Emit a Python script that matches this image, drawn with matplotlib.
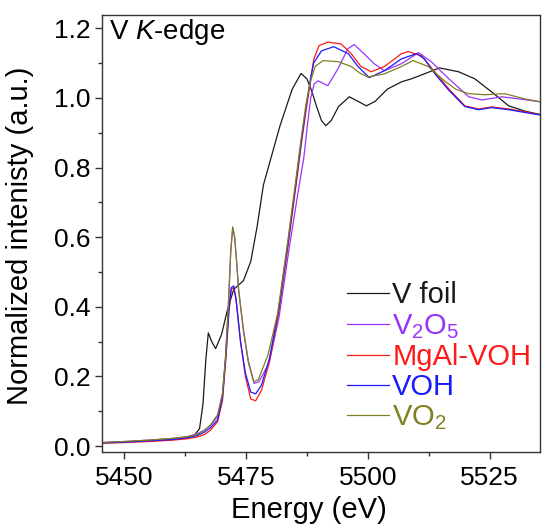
import matplotlib
matplotlib.use("Agg")
import matplotlib.pyplot as plt
from matplotlib.ticker import MultipleLocator

plt.rcParams['font.family'] = ['Liberation Sans', 'DejaVu Sans']
plt.rcParams['mathtext.fontset'] = 'custom'
plt.rcParams['mathtext.rm'] = 'Liberation Sans'
plt.rcParams['mathtext.it'] = 'Liberation Sans:italic'

# ---- data ----
foil_E = [5445.5, 5450, 5455, 5460, 5463, 5464.5, 5465.5, 5466.2, 5466.8, 5467.3, 5468, 5468.8,
          5470, 5471.2, 5472.5, 5474.5, 5476, 5477.3, 5478.6, 5480, 5482, 5484.5, 5486.3, 5487.5,
          5488.5, 5489.5, 5490.5, 5491.4, 5492.5, 5494, 5496.2, 5498, 5499.7, 5501.5, 5504,
          5506.9, 5509, 5511.6, 5514.7, 5518.6, 5521.9, 5525.4, 5528.9, 5532.2, 5535.7]
foil_I = [0.010, 0.012, 0.015, 0.019, 0.024, 0.032, 0.05, 0.12, 0.25, 0.325, 0.30, 0.28,
          0.32, 0.39, 0.45, 0.475, 0.53, 0.63, 0.75, 0.82, 0.92, 1.025, 1.07, 1.055,
          1.02, 0.975, 0.935, 0.92, 0.935, 0.975, 1.003, 0.99, 0.977, 0.99, 1.025,
          1.046, 1.055, 1.069, 1.086, 1.075, 1.055, 1.017, 0.977, 0.962, 0.951]

v2o5_E = [5445.5, 5450, 5455, 5460, 5463, 5465, 5466.5, 5467.7, 5469.2, 5470.2, 5470.8, 5471.4,
          5471.9, 5472.3, 5472.7, 5473.1, 5473.5, 5474.5, 5475.5, 5476.7, 5477.7, 5479.8, 5481.8,
          5483.9, 5485.6, 5486.9, 5487.6, 5488.3, 5489, 5489.8, 5491.8, 5493.9, 5495.9, 5497.2,
          5499.2, 5501.3, 5503.4, 5506.9, 5510.4, 5513, 5516.6, 5520.7, 5523.4, 5527.5, 5531, 5535.7]
v2o5_I = [0.010, 0.013, 0.017, 0.022, 0.027, 0.035, 0.046, 0.058, 0.085, 0.15, 0.25, 0.40,
          0.56, 0.625, 0.60, 0.53, 0.45, 0.335, 0.245, 0.18, 0.185, 0.24, 0.37,
          0.57, 0.72, 0.83, 0.92, 1.0, 1.04, 1.049, 1.035, 1.084, 1.141, 1.153,
          1.127, 1.098, 1.078, 1.098, 1.13, 1.104, 1.055, 1.003, 0.994, 1.003, 0.997, 0.988]

mgal_E = [5445.5, 5450, 5455, 5460, 5463, 5465, 5466.5, 5467.7, 5469.2, 5470.2, 5470.9, 5471.5,
          5472, 5472.5, 5473, 5473.9, 5474.9, 5476, 5477, 5478.2, 5479.8, 5481.7, 5483.7, 5485.3,
          5486.4, 5487.4, 5488.3, 5488.9, 5490, 5491.8, 5494.5, 5496.6, 5498.6, 5500.7, 5503.4,
          5506.9, 5508.3, 5511, 5513.7, 5516.6, 5519.9, 5522.7, 5525.4, 5528.9, 5532.2, 5535.7]
mgal_I = [0.008, 0.010, 0.013, 0.017, 0.021, 0.026, 0.033, 0.045, 0.07, 0.13, 0.25, 0.38,
          0.45, 0.455, 0.42, 0.30, 0.20, 0.135, 0.13, 0.16, 0.24, 0.38, 0.58, 0.75,
          0.87, 0.97, 1.05, 1.11, 1.15, 1.16, 1.155, 1.127, 1.09, 1.075, 1.09,
          1.127, 1.133, 1.121, 1.075, 1.026, 0.977, 0.968, 0.974, 0.968, 0.96, 0.951]

voh_E = [5445.5, 5450, 5455, 5460, 5463, 5465, 5466.5, 5467.7, 5469.2, 5470.2, 5470.9, 5471.5,
         5472, 5472.5, 5473, 5473.9, 5474.9, 5476, 5477, 5478.2, 5479.8, 5481.7, 5483.7, 5485.3,
         5486.4, 5487.4, 5488.3, 5488.9, 5490.5, 5493, 5496, 5498, 5500.3, 5503.4, 5506.9,
         5510, 5511.6, 5513.7, 5516.6, 5519.9, 5522.7, 5525.4, 5528.9, 5532.2, 5535.7]
voh_I = [0.009, 0.011, 0.015, 0.019, 0.024, 0.030, 0.040, 0.052, 0.075, 0.14, 0.26, 0.39,
         0.455, 0.46, 0.42, 0.30, 0.21, 0.155, 0.15, 0.175, 0.25, 0.39, 0.59, 0.76,
         0.88, 0.98, 1.06, 1.10, 1.135, 1.147, 1.127, 1.09, 1.058, 1.078, 1.112,
         1.127, 1.112, 1.07, 1.022, 0.975, 0.966, 0.972, 0.966, 0.958, 0.950]

vo2_E = [5445.5, 5450, 5455, 5460, 5463, 5465, 5466.5, 5467.7, 5469.2, 5470.2, 5470.8, 5471.4,
         5471.9, 5472.3, 5472.7, 5473.1, 5473.5, 5474.5, 5475.5, 5476.6, 5477.5, 5479.5, 5481.5,
         5483.6, 5485.2, 5486.3, 5487.3, 5488.3, 5489.2, 5490.8, 5493.9, 5496.6, 5498.5, 5500,
         5503.4, 5506.9, 5509.3, 5512.4, 5515.7, 5518, 5520.7, 5524, 5528.1, 5532.2, 5535.7]
vo2_I = [0.010, 0.013, 0.017, 0.022, 0.027, 0.033, 0.045, 0.06, 0.09, 0.15, 0.25, 0.40,
         0.56, 0.63, 0.60, 0.53, 0.45, 0.33, 0.24, 0.185, 0.19, 0.26, 0.38,
         0.59, 0.76, 0.88, 0.98, 1.05, 1.09, 1.107, 1.104, 1.09, 1.07, 1.06,
         1.069, 1.09, 1.107, 1.09, 1.049, 1.025, 1.012, 1.009, 1.012, 0.997, 0.988]

labels = ['V foil', 'V$_2$O$_5$', 'MgAl-VOH', 'VOH', 'VO$_2$']
colors = ['#1a1a1a', '#9933ff', '#ff1a1a', '#1a1aff', '#808020']
series = [(foil_E, foil_I), (v2o5_E, v2o5_I), (mgal_E, mgal_I), (voh_E, voh_I), (vo2_E, vo2_I)]

xticks = [5450, 5475, 5500, 5525]
yticks = [0.0, 0.2, 0.4, 0.6, 0.8, 1.0, 1.2]

fig = plt.figure(figsize=(5.44, 5.26), dpi=100)
ax = fig.add_axes([0.1875, 0.1407, 0.8051, 0.8308])

for (E, I), lab, c in zip(series, labels, colors):
    ax.plot(E, I, color=c, lw=0.9, label=lab)

ax.set_xlim(5445.5, 5535.3)
ax.set_ylim(-0.017, 1.238)
ax.set_xticks(xticks)
ax.set_yticks(yticks)
ax.set_yticklabels([f'{v:.1f}' for v in yticks])
ax.xaxis.set_minor_locator(MultipleLocator(12.5))
ax.yaxis.set_minor_locator(MultipleLocator(0.1))
ax.tick_params(which='both', direction='out', top=False, right=False, labelsize=19, width=1,
               color='#333333')
ax.tick_params(axis='x', pad=5)
ax.tick_params(which='major', length=5)
ax.tick_params(which='minor', length=3)
for s in ax.spines.values():
    s.set_linewidth(1.0)
    s.set_color('#333333')

ax.set_xlabel('Energy (eV)', fontsize=21)
ax.set_ylabel('Normalized intenisty (a.u.)', fontsize=21)
ax.xaxis.set_label_coords(0.473, -0.10)
ax.yaxis.set_label_coords(-0.155, 0.495)

ax.text(0.015, 0.995, 'V $K$-edge', transform=ax.transAxes, fontsize=20, va='top', ha='left')

leg = ax.legend(loc='lower right', bbox_to_anchor=(1.0, 0.025), frameon=False, fontsize=21,
                handlelength=1.45, handletextpad=0.1, labelspacing=0.08, labelcolor='linecolor',
                borderaxespad=0.1, borderpad=0.2)

fig.savefig('out.png', dpi=100)
